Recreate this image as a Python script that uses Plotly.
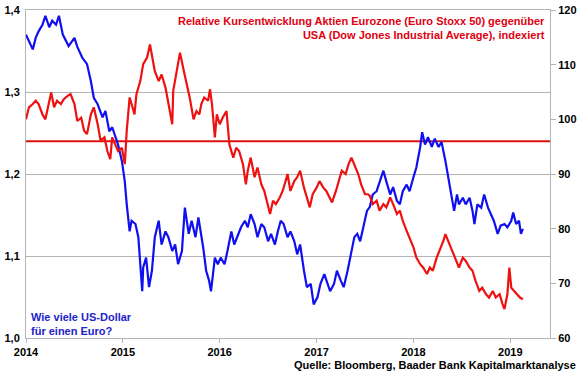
import plotly.graph_objects as go

# EUR/USD (left axis) - time in decimal years
usd_t = [2014.00, 2014.03, 2014.07, 2014.10, 2014.13, 2014.17, 2014.20, 2014.24, 2014.27, 2014.31,
         2014.34, 2014.38, 2014.41, 2014.44, 2014.50, 2014.53, 2014.58, 2014.63, 2014.67, 2014.70,
         2014.74, 2014.79, 2014.82, 2014.86, 2014.89, 2014.92, 2014.95, 2014.99, 2015.02, 2015.04,
         2015.07, 2015.09, 2015.13, 2015.16, 2015.20, 2015.21, 2015.24, 2015.27, 2015.30, 2015.33,
         2015.37, 2015.40, 2015.44, 2015.47, 2015.51, 2015.54, 2015.57, 2015.61, 2015.64, 2015.68,
         2015.71, 2015.75, 2015.78, 2015.83, 2015.86, 2015.89, 2015.91, 2015.95, 2015.98, 2016.01,
         2016.05, 2016.08, 2016.12, 2016.15, 2016.19, 2016.22, 2016.26, 2016.29, 2016.32, 2016.36,
         2016.39, 2016.43, 2016.46, 2016.50, 2016.53, 2016.57, 2016.60, 2016.63, 2016.66, 2016.70,
         2016.73, 2016.77, 2016.80, 2016.83, 2016.87, 2016.90, 2016.94, 2016.97, 2017.01, 2017.04,
         2017.08, 2017.11, 2017.14, 2017.18, 2017.21, 2017.25, 2017.28, 2017.32, 2017.35, 2017.39,
         2017.42, 2017.45, 2017.49, 2017.52, 2017.55, 2017.58, 2017.62, 2017.65, 2017.69, 2017.72,
         2017.76, 2017.79, 2017.83, 2017.86, 2017.89, 2017.93, 2017.96, 2018.00, 2018.03, 2018.07,
         2018.09, 2018.12, 2018.15, 2018.19, 2018.22, 2018.26, 2018.29, 2018.33, 2018.36, 2018.39,
         2018.42, 2018.45, 2018.47, 2018.51, 2018.54, 2018.58, 2018.61, 2018.63, 2018.66, 2018.70,
         2018.73, 2018.77, 2018.80, 2018.83, 2018.87, 2018.90, 2018.94, 2018.97, 2019.01, 2019.03,
         2019.06, 2019.09, 2019.11, 2019.13]
usd_v = [1.370, 1.362, 1.352, 1.366, 1.374, 1.382, 1.393, 1.379, 1.387, 1.382,
         1.393, 1.370, 1.362, 1.356, 1.366, 1.355, 1.342, 1.334, 1.313, 1.293,
         1.285, 1.269, 1.277, 1.252, 1.257, 1.245, 1.236, 1.216, 1.191, 1.163,
         1.130, 1.143, 1.139, 1.123, 1.057, 1.086, 1.098, 1.062, 1.082, 1.123,
         1.143, 1.114, 1.130, 1.123, 1.106, 1.114, 1.090, 1.106, 1.159, 1.127,
         1.143, 1.123, 1.147, 1.110, 1.082, 1.070, 1.057, 1.098, 1.090, 1.098,
         1.090, 1.106, 1.130, 1.114, 1.127, 1.135, 1.143, 1.135, 1.151, 1.139,
         1.123, 1.139, 1.135, 1.118, 1.127, 1.114, 1.130, 1.143, 1.139, 1.123,
         1.130, 1.118, 1.102, 1.114, 1.082, 1.062, 1.066, 1.041, 1.050, 1.066,
         1.078, 1.066, 1.057, 1.066, 1.082, 1.070, 1.062, 1.082, 1.098, 1.123,
         1.127, 1.118, 1.139, 1.155, 1.160, 1.175, 1.179, 1.191, 1.204, 1.191,
         1.175, 1.184, 1.167, 1.163, 1.179, 1.187, 1.179, 1.196, 1.208, 1.233,
         1.251, 1.236, 1.245, 1.233, 1.243, 1.233, 1.239, 1.216, 1.196, 1.179,
         1.155, 1.175, 1.163, 1.171, 1.163, 1.171, 1.155, 1.139, 1.163, 1.159,
         1.175, 1.159, 1.151, 1.143, 1.127, 1.137, 1.139, 1.135, 1.143, 1.153,
         1.139, 1.143, 1.127, 1.133]

# Relative performance Euro Stoxx 50 vs Dow Jones (right axis, indexed)
rel_t = [2014.00, 2014.03, 2014.07, 2014.10, 2014.13, 2014.17, 2014.20, 2014.24, 2014.26, 2014.29,
         2014.32, 2014.36, 2014.39, 2014.43, 2014.46, 2014.50, 2014.53, 2014.57, 2014.60, 2014.63,
         2014.67, 2014.70, 2014.74, 2014.77, 2014.81, 2014.84, 2014.87, 2014.89, 2014.92, 2014.95,
         2014.99, 2015.02, 2015.04, 2015.07, 2015.09, 2015.12, 2015.14, 2015.18, 2015.21, 2015.25,
         2015.28, 2015.31, 2015.33, 2015.37, 2015.40, 2015.44, 2015.47, 2015.51, 2015.52, 2015.56,
         2015.59, 2015.63, 2015.66, 2015.69, 2015.73, 2015.76, 2015.79, 2015.81, 2015.84, 2015.88,
         2015.90, 2015.92, 2015.95, 2015.97, 2016.00, 2016.03, 2016.07, 2016.10, 2016.14, 2016.17,
         2016.20, 2016.24, 2016.27, 2016.29, 2016.32, 2016.36, 2016.39, 2016.43, 2016.46, 2016.49,
         2016.52, 2016.55, 2016.58, 2016.62, 2016.65, 2016.68, 2016.70, 2016.73, 2016.77, 2016.80,
         2016.83, 2016.87, 2016.90, 2016.93, 2016.96, 2017.00, 2017.03, 2017.07, 2017.10, 2017.13,
         2017.16, 2017.20, 2017.23, 2017.26, 2017.30, 2017.33, 2017.36, 2017.40, 2017.43, 2017.46,
         2017.50, 2017.53, 2017.55, 2017.58, 2017.62, 2017.65, 2017.69, 2017.72, 2017.76, 2017.79,
         2017.83, 2017.86, 2017.89, 2017.93, 2017.96, 2018.00, 2018.03, 2018.07, 2018.10, 2018.14,
         2018.17, 2018.20, 2018.24, 2018.27, 2018.31, 2018.33, 2018.37, 2018.40, 2018.44, 2018.47,
         2018.51, 2018.54, 2018.58, 2018.61, 2018.64, 2018.68, 2018.71, 2018.75, 2018.78, 2018.82,
         2018.85, 2018.89, 2018.92, 2018.94, 2018.97, 2018.99, 2019.01, 2019.04, 2019.07, 2019.10,
         2019.13]
rel_v = [100.0, 102.2, 102.8, 103.4, 102.8, 100.9, 100.0, 103.4, 104.9, 102.2,
         103.4, 102.8, 103.7, 104.3, 104.6, 102.8, 99.7, 100.3, 97.9, 97.3,
         100.9, 102.2, 99.1, 96.1, 96.7, 94.2, 92.7, 96.7, 95.4, 94.2,
         94.8, 91.8, 97.9, 104.0, 102.8, 100.9, 104.6, 107.0, 110.1, 111.3,
         113.7, 110.7, 108.8, 107.0, 108.2, 105.8, 102.8, 99.1, 105.2, 109.5,
         112.2, 108.8, 106.4, 104.0, 100.0, 101.5, 100.9, 102.8, 104.0, 103.4,
         105.5, 102.8, 96.7, 100.9, 99.1, 100.3, 101.5, 95.4, 93.0, 94.8,
         94.2, 91.8, 88.1, 90.6, 93.0, 89.4, 91.2, 88.1, 86.9, 84.5,
         82.7, 85.1, 84.5, 85.7, 86.9, 88.7, 90.0, 86.9, 88.7, 89.4,
         90.6, 87.5, 85.7, 83.9, 86.3, 87.5, 88.7, 87.5, 86.9, 85.7,
         84.8, 86.9, 88.7, 90.6, 90.0, 91.8, 93.0, 91.2, 90.0, 88.1,
         86.3, 86.3, 86.0, 84.5, 85.1, 83.3, 84.5, 83.9, 85.7, 84.5,
         82.7, 83.3, 81.4, 79.6, 78.4, 76.6, 74.7, 73.5, 72.9, 71.7,
         72.9, 72.3, 74.7, 75.9, 77.8, 79.0, 77.2, 75.9, 74.4, 72.9,
         74.7, 74.1, 72.9, 72.3, 70.5, 68.6, 69.2, 68.0, 67.4, 68.6,
         67.4, 68.0, 66.2, 65.3, 68.0, 72.9, 69.2, 68.6, 68.0, 67.4,
         67.1]

ref_level = 96.0
year_ticks = [2014, 2015, 2016, 2017, 2018, 2019]
year_labels = ["2014", "2015", "2016", "2017", "2018", "2019"]
left_ticks = [1.0, 1.1, 1.2, 1.3, 1.4]
right_ticks = [60, 70, 80, 90, 100, 110, 120]

FONT = "Liberation Sans, Arial, sans-serif"
RED = "#ee1111"
BLUE = "#0f0ff0"
GRID = "#b4b4b4"

fig = go.Figure()
fig.add_trace(go.Scatter(x=rel_t, y=rel_v, mode="lines", yaxis="y2",
                         line=dict(color=RED, width=2.2), showlegend=False))
fig.add_trace(go.Scatter(x=usd_t, y=usd_v, mode="lines", yaxis="y",
                         line=dict(color=BLUE, width=2.2), showlegend=False))

fig.add_shape(type="line", xref="paper", x0=0, x1=1, yref="y2", y0=ref_level, y1=ref_level,
              line=dict(color="#dd1111", width=2), layer="below")

tickfont = dict(family=FONT, size=11, color="black", weight="bold")

fig.update_layout(
    width=580, height=375,
    margin=dict(l=26, r=30, t=10, b=37, autoexpand=False),
    paper_bgcolor="white", plot_bgcolor="white",
    separators=",.",
    font=dict(family=FONT),
    xaxis=dict(range=[2014, 2019.41], tickvals=year_ticks, ticktext=year_labels,
               automargin=False,
               showgrid=False, zeroline=False, showline=True, linecolor=GRID, linewidth=1,
               mirror=True, ticks="outside", ticklen=4, tickcolor=GRID, tickfont=tickfont),
    yaxis=dict(range=[1.0, 1.4], tickvals=left_ticks, tickformat=".1f", automargin=False,
               showgrid=True, gridcolor=GRID, gridwidth=1, zeroline=False,
               showline=True, linecolor=GRID, linewidth=1,
               ticks="outside", ticklen=3, tickcolor="rgba(0,0,0,0)", tickfont=tickfont),
    yaxis2=dict(range=[60, 120], tickvals=right_ticks, overlaying="y", side="right",
                automargin=False,
                showgrid=False, zeroline=False, showline=True, linecolor=GRID, linewidth=1,
                ticks="outside", ticklen=5, tickcolor=GRID, tickfont=tickfont),
    annotations=[
        dict(text="Relative Kursentwicklung Aktien Eurozone (Euro Stoxx 50) gegenüber<br>"
                  "USA (Dow Jones Industrial Average), indexiert",
             xref="paper", yref="paper", x=0.994, y=0.99, xanchor="right", yanchor="top",
             align="right", showarrow=False,
             font=dict(family=FONT, size=11, color="#e00010", weight="bold")),
        dict(text="Wie viele US-Dollar<br>für einen Euro?",
             xref="paper", yref="paper", x=0.006, y=-0.004, xanchor="left", yanchor="bottom",
             align="left", showarrow=False,
             font=dict(family=FONT, size=11, color="#2323c8", weight="bold")),
        dict(text="Quelle: Bloomberg, Baader Bank Kapitalmarktanalyse",
             xref="paper", yref="paper", x=1.053, y=-0.082, xanchor="right", yanchor="middle",
             showarrow=False,
             font=dict(family=FONT, size=11, color="black", weight="bold")),
    ],
)

# remove the default 8px page margin so the 580x375 figure fills the window exactly
fig.write_html("out.html", config={"displayModeBar": False},
               post_script="document.body.style.margin='0px';")
